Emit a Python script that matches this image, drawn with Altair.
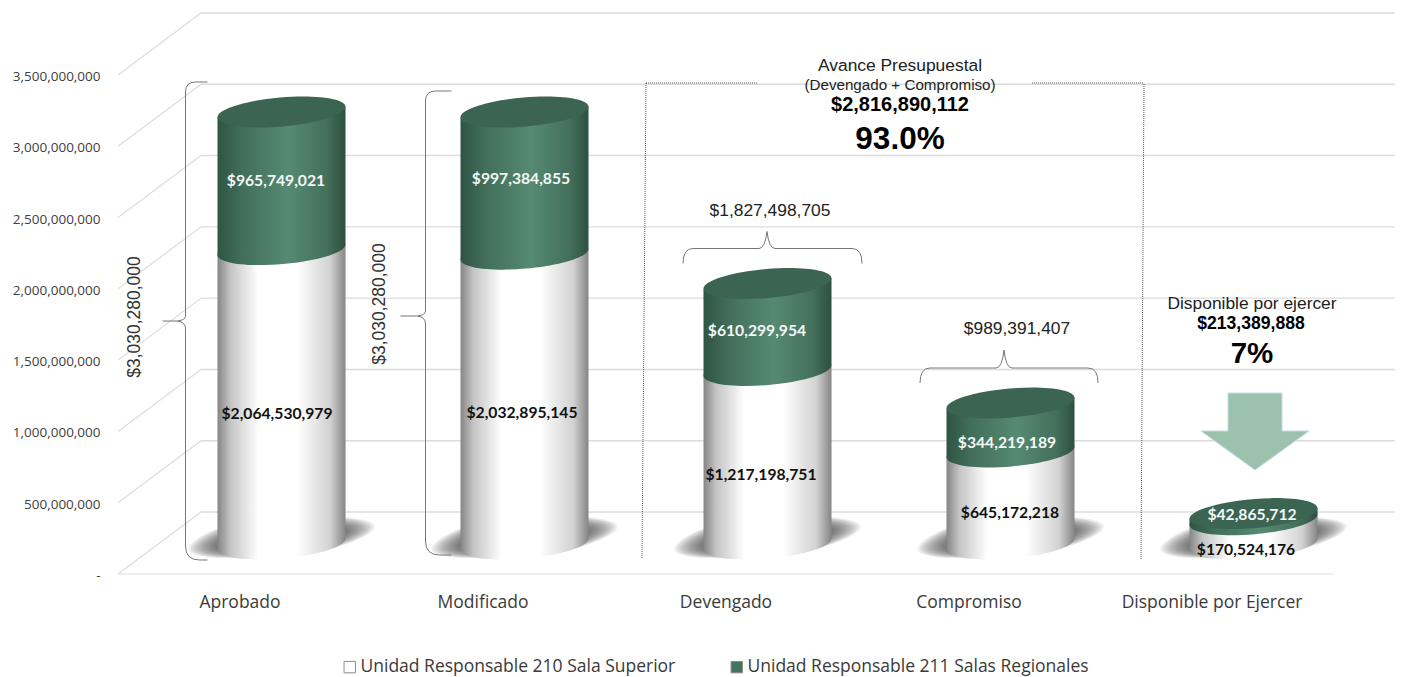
import math
import altair as alt
import pandas as pd

# ---------- data ----------
categories = ["Aprobado", "Modificado", "Devengado", "Compromiso", "Disponible por Ejercer"]
sala_superior = [2064530979, 2032895145, 1217198751, 645172218, 170524176]
salas_regionales = [965749021, 997384855, 610299954, 344219189, 42865712]
series_names = ["Unidad Responsable 210 Sala Superior", "Unidad Responsable 211 Salas Regionales"]
y_ticks = [0, 500000000, 1000000000, 1500000000, 2000000000, 2500000000, 3000000000, 3500000000]

# ---------- layout (screen pixels turned into data units, drawn through the scales) ----------
LEFT, TOP, W, H = 118, 75, 1215, 499
BOTTOM = TOP + H
STEP = W / 5
YMAX = 3.5e9


def X(px):
    return (px - LEFT) / STEP


def V(py):
    return (BOTTOM - py) * YMAX / H


PXV = YMAX / H              # value of one pixel
DEPTH = 62 * PXV            # back wall rise
BASE = 30 * PXV             # cylinder floor position above the axis
TILT = 5.5 * PXV            # half the rise of the elliptical rim
CX_SHIFT = 42 / STEP        # cylinder offset from the category tick
HALF = 64 / STEP            # cylinder half width

xs = alt.Scale(domain=[0, 5], nice=False, zero=False)
ys = alt.Scale(domain=[0, YMAX], nice=False, zero=False)
x_axis = alt.Axis(
    values=[0.5, 1.5, 2.5, 3.5, 4.5], domain=False, ticks=False, grid=False, title=None,
    labelExpr="['" + "','".join(categories) + "'][round(datum.value - 0.5)]",
    labelFont="Open Sans", labelFontSize=17.5, labelColor="#3a3a3a", labelPadding=19, labelFlush=False,
    labelOverlap=False, labelLimit=300)
y_axis = alt.Axis(
    values=y_ticks, domain=False, ticks=False, grid=False, title=None,
    labelExpr="datum.value == 0 ? '-' : format(datum.value, ',')",
    labelFont="Open Sans", labelFontSize=13.5, labelColor="#404040", labelPadding=18, labelOffset=1.5)
NOX = dict(scale=xs, axis=x_axis, title=None)
NOY = dict(scale=ys, axis=y_axis, title=None)

centers = [i + 0.5 + CX_SHIFT for i in range(5)]

# ---------- paths ----------


def ellipse_path(a, b, theta):
    """Closed tilted ellipse made of 4 cubic curves, pixel units (symbol size 4)."""
    k = 0.5523
    c, s = math.cos(theta), math.sin(theta)

    def p(u, v):
        return f"{u * a * c + v * b * s:.2f},{-u * a * s + v * b * c:.2f}"
    return (f"M{p(1, 0)}C{p(1, k)} {p(k, 1)} {p(0, 1)}C{p(-k, 1)} {p(-1, k)} {p(-1, 0)}"
            f"C{p(-1, -k)} {p(-k, -1)} {p(0, -1)}C{p(k, -1)} {p(1, -k)} {p(1, 0)}Z")


def rounded_poly(pts):
    """Closed smooth outline: curves through edge midpoints with the vertices as controls."""
    n = len(pts)
    mids = [((pts[i][0] + pts[(i + 1) % n][0]) / 2, (pts[i][1] + pts[(i + 1) % n][1]) / 2) for i in range(n)]
    d = f"M{mids[-1][0]:.1f},{mids[-1][1]:.1f}"
    for i in range(n):
        d += f"Q{pts[i][0]},{pts[i][1]} {mids[i][0]:.1f},{mids[i][1]:.1f}"
    return d + "Z"


RIM = ellipse_path(64.2, 14.5, math.atan(5.5 / 64))
SHADOW = rounded_poly([(-108, 18), (40, 15), (108, -20), (-40, -24)])
SHADOW_SCALES = [1.1, 1.07, 1.04, 1.01, 0.98, 0.95, 0.92, 0.89, 0.86, 0.83, 0.8, 0.77, 0.74, 0.71]


def brace_v(top, bot, spine_to_end, tip):
    """Left-opening vertical brace; origin on the spine at the tip height."""
    e = spine_to_end
    return (f"M{e},{top} L10,{top} Q0,{top} 0,{top + 10} L0,-5 Q0,-1 -8,0 L{tip},0 "
            f"M-8,0 Q0,1 0,8 L0,{bot - 14} Q0,{bot} 14,{bot} L{e},{bot}")


def brace_h(half_l, half_r, drop, rise):
    """Upward brace; origin at the bar height under the tip."""
    return (f"M{half_l},{drop} Q{half_l},0 {half_l + 10},0 L-8,0 Q-2,0 0,{rise} "
            f"Q2,0 8,0 L{half_r - 10},0 Q{half_r},0 {half_r},{drop}")


ARROW = "M-27,-38 L27,-38 L27,0 L54,0 L0,39 L-54,0 L-27,0 Z"

white_grad = alt.LinearGradient(gradient="linear", x1=0, x2=1, y1=0, y2=0, stops=[
    alt.GradientStop(color="#858585", offset=0),
    alt.GradientStop(color="#c4c4c4", offset=0.1),
    alt.GradientStop(color="#ffffff", offset=0.32),
    alt.GradientStop(color="#ffffff", offset=0.62),
    alt.GradientStop(color="#d2d2d2", offset=0.88),
    alt.GradientStop(color="#858585", offset=1),
])
green_grad = alt.LinearGradient(gradient="linear", x1=0, x2=1, y1=0, y2=0, stops=[
    alt.GradientStop(color="#2f5444", offset=0),
    alt.GradientStop(color="#426f5b", offset=0.2),
    alt.GradientStop(color="#568a72", offset=0.55),
    alt.GradientStop(color="#44705c", offset=0.85),
    alt.GradientStop(color="#2e5040", offset=1),
])

# ---------- frames ----------
segments = []
for i, c in enumerate(centers):
    w = sala_superior[i]
    g = salas_regionales[i]
    for side in (-1, 1):
        segments.append(dict(cat=categories[i], x=c + side * HALF, part="white",
                             y0=BASE + side * TILT, y1=BASE + w + side * TILT))
        segments.append(dict(cat=categories[i], x=c + side * HALF, part="green",
                             y0=BASE + w + side * TILT, y1=BASE + w + g + side * TILT))
seg = pd.DataFrame(segments)

cyl = pd.DataFrame(dict(cat=categories, x=centers,
                        base=[BASE] * 5,
                        mid=[BASE + v for v in sala_superior],
                        top=[BASE + a + b for a, b in zip(sala_superior, salas_regionales)],
                        shadow=[V(540)] * 5))
legend_df = pd.DataFrame(dict(
    x=centers * 2,
    y=[BASE + v / 2 for v in sala_superior] + [BASE + a + b / 2 for a, b in zip(sala_superior, salas_regionales)],
    serie=[series_names[0]] * 5 + [series_names[1]] * 5))

ticks = pd.DataFrame(dict(v=y_ticks))
ticks["wall"] = ticks.v + DEPTH
ticks["xa"] = X(118)
ticks["xb"] = X(201)
ticks["xc"] = X(1395)

# ---------- layers ----------
layers = []

floor = pd.DataFrame(dict(v=[0], a=[0], b=[5]))
layers.append(alt.Chart(floor).mark_rule(color="#e8e8e8", strokeWidth=1.6).encode(
    x=alt.X("a:Q", **NOX), x2="b:Q", y=alt.Y("v:Q", **NOY)))
layers.append(alt.Chart(ticks).mark_rule(color="#dcdcdc", strokeWidth=1.4).encode(
    x=alt.X("xb:Q", **NOX), x2="xc:Q", y=alt.Y("wall:Q", **NOY)))
layers.append(alt.Chart(ticks).mark_rule(color="#dcdcdc", strokeWidth=1.2).encode(
    x=alt.X("xa:Q", **NOX), x2="xb:Q", y=alt.Y("v:Q", **NOY), y2="wall:Q"))

# legend squares sit hidden behind the cylinders
layers.append(alt.Chart(legend_df).mark_square(size=100, filled=True).encode(
    x=alt.X("x:Q", **NOX), y=alt.Y("y:Q", **NOY),
    color=alt.Color("serie:N", scale=alt.Scale(domain=series_names, range=["#ffffff", "#44735e"]),
                    legend=alt.Legend(orient="none", legendX=223, legendY=583, direction="horizontal",
                                      title=None, symbolType="square", symbolSize=130,
                                      symbolStrokeColor="#8c8c8c", symbolStrokeWidth=1, symbolOpacity=1,
                                      labelFont="Open Sans", labelFontSize=17.5, labelColor="#3a3a3a",
                                      labelOffset=2, labelLimit=500, columnPadding=52, symbolOffset=0))))


def pt(df, yf, shape, fill, size=4, opacity=1.0):
    return alt.Chart(df).mark_point(shape=shape, size=size, filled=True, fill=fill, opacity=opacity,
                                    strokeWidth=0).encode(
        x=alt.X("x:Q", **NOX), y=alt.Y(f"{yf}:Q", **NOY))


for s in SHADOW_SCALES:
    layers.append(pt(cyl, "shadow", SHADOW, "#3c3c3c", size=4 * s * s, opacity=0.085))
layers.append(pt(cyl, "base", RIM, white_grad))
layers.append(alt.Chart(seg[seg.part == "white"]).mark_area(fill=white_grad, opacity=1, interpolate="linear").encode(
    x=alt.X("x:Q", **NOX), y=alt.Y("y0:Q", **NOY), y2="y1:Q", detail="cat:N"))
layers.append(pt(cyl, "mid", RIM, green_grad))
layers.append(alt.Chart(seg[seg.part == "green"]).mark_area(fill=green_grad, opacity=1, interpolate="linear").encode(
    x=alt.X("x:Q", **NOX), y=alt.Y("y0:Q", **NOY), y2="y1:Q", detail="cat:N"))
layers.append(pt(cyl, "top", RIM, "#3c6452"))

# dotted frame
dotted = pd.DataFrame([
    dict(x=X(646), x2=X(642), y=V(83), y2=V(558)),
    dict(x=X(1144), x2=X(1141), y=V(84), y2=V(560)),
    dict(x=X(646), x2=X(758), y=V(83), y2=V(83)),
    dict(x=X(1032), x2=X(1143), y=V(83), y2=V(83)),
])
layers.append(alt.Chart(dotted).mark_rule(color="#555555", strokeWidth=1, strokeDash=[1, 1]).encode(
    x=alt.X("x:Q", **NOX), x2="x2:Q", y=alt.Y("y:Q", **NOY), y2="y2:Q"))

# braces
BR = [
    (185.5, 321, brace_v(-239, 239, 22, -23)),
    (425.5, 316, brace_v(-225, 239, 26, -25)),
    (767, 248.5, brace_h(-84, 95, 15, -17)),
    (1004, 368, brace_h(-84, 94, 15, -18)),
]
for px, py, path in BR:
    layers.append(alt.Chart(pd.DataFrame(dict(x=[X(px)], y=[V(py)]))).mark_point(
        shape=path, size=4, filled=False, fill=None, stroke="#777777", strokeWidth=1, opacity=1).encode(
        x=alt.X("x:Q", **NOX), y=alt.Y("y:Q", **NOY)))

# arrow
layers.append(alt.Chart(pd.DataFrame(dict(x=[X(1255)], y=[V(431)]))).mark_point(
    shape=ARROW, size=4, filled=True, fill="#9cc2ae", stroke="#c3dbe6", strokeWidth=1, opacity=1).encode(
    x=alt.X("x:Q", **NOX), y=alt.Y("y:Q", **NOY)))


def texts(items, font, size, bold=False, color="#000000", angle=0):
    df = pd.DataFrame([dict(t=t, x=X(px), y=V(py)) for t, px, py in items])
    return alt.Chart(df).mark_text(font=font, fontSize=size, fontWeight="bold" if bold else "normal",
                                   color=color, angle=angle, align="center", baseline="middle").encode(
        x=alt.X("x:Q", **NOX), y=alt.Y("y:Q", **NOY), text="t:N")


def money(v):
    return f"${v:,}"


green_lab_pos = [(276, 181), (521, 179), (757, 331), (1007, 443), (1252, 515)]
white_lab_pos = [(277, 414), (522, 413), (761, 475), (1010, 513), (1246, 550)]
layers.append(texts([(money(v), *p) for v, p in zip(salas_regionales, green_lab_pos)], "Lato", 15.7, True, "#f4f8f6"))
layers.append(texts([(money(v), *p) for v, p in zip(sala_superior, white_lab_pos)], "Lato", 15.7, True, "#111111"))

A = "Liberation Sans"
layers.append(texts([("$3,030,280,000", 134.5, 317), ("$3,030,280,000", 380, 304)], A, 17.5, False, "#333333", angle=270))
layers.append(texts([("Avance Presupuestal", 900, 66), ("$1,827,498,705", 770, 211), ("$989,391,407", 1017, 329),
                     ("Disponible por ejercer", 1252, 304)], A, 17.4, False, "#222222"))
layers.append(texts([("(Devengado + Compromiso)", 900, 85)], A, 15.2, False, "#222222"))
layers.append(texts([("$2,816,890,112", 900, 105)], A, 20, True))
layers.append(texts([("$213,389,888", 1251, 324)], A, 17.6, True))
layers.append(texts([("93.0%", 900, 140)], A, 31.5, True))
layers.append(texts([("7%", 1252, 354)], A, 29.5, True))

TOTAL_H = 669
chart = alt.layer(*layers).properties(
    width=W, height=H,
    padding={"left": LEFT - 8, "top": TOP - 8, "right": 1390 - (LEFT - 8) - W, "bottom": TOTAL_H - (TOP - 8) - H},
    autosize=alt.AutoSizeParams(type="none", contains="content"),
    background="#ffffff",
).configure_view(stroke=None)

chart.save("out.html", embed_options={"renderer": "svg", "actions": False})
